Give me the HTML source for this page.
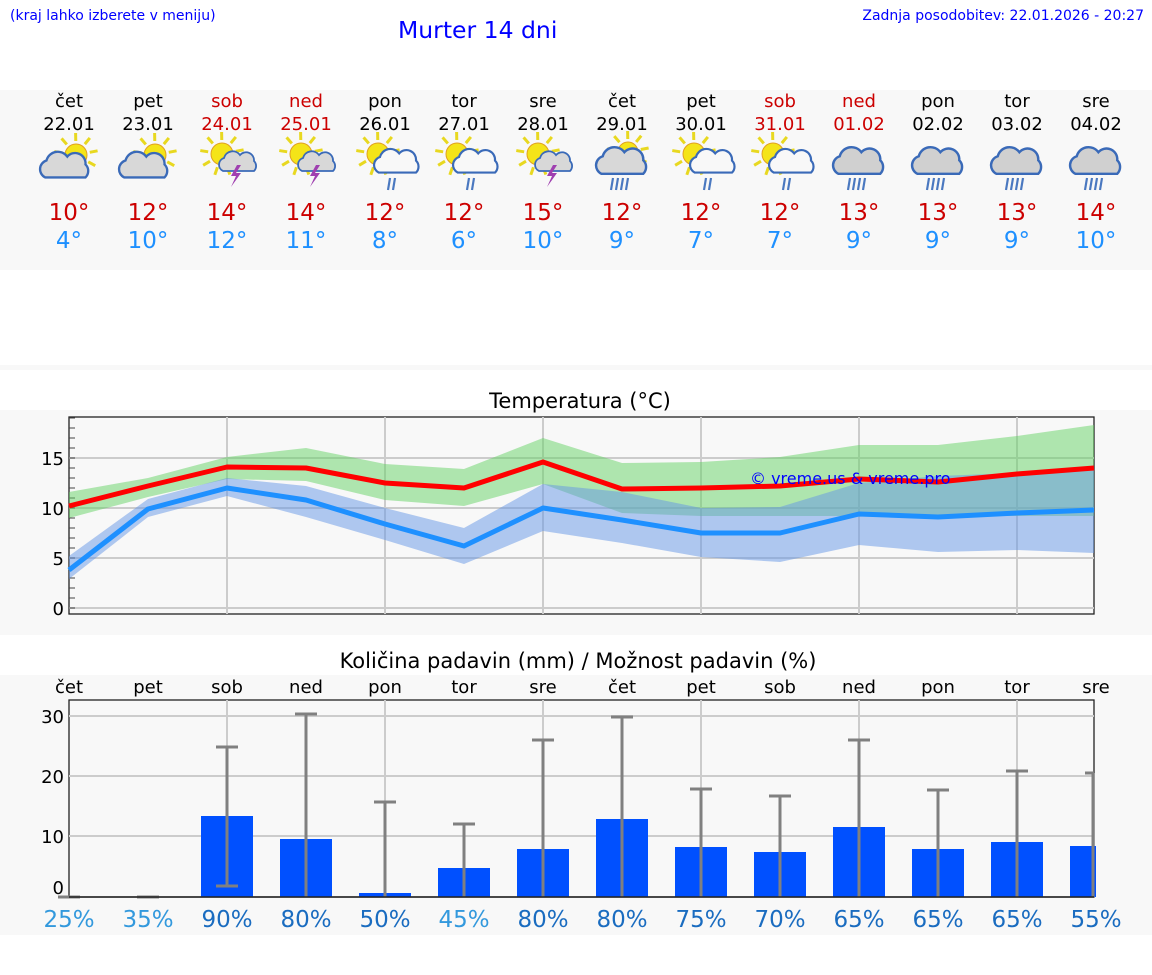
<!DOCTYPE html>
<html><head><meta charset="utf-8">
<style>
body{margin:0;width:1152px;height:975px;background:#fff;font-family:"DejaVu Sans","Liberation Sans",sans-serif;overflow:hidden;position:relative}
.abs{position:absolute}
</style></head><body>
<div class="abs" style="left:10px;top:8px;font-size:14px;color:#00f">(kraj lahko izberete v meniju)</div>
<div class="abs" style="left:398px;top:16px;font-size:23.5px;color:#00f">Murter 14 dni</div>
<div class="abs" style="right:8px;top:8px;font-size:14px;color:#00f">Zadnja posodobitev: 22.01.2026 - 20:27</div>
<svg class="abs" style="left:0;top:0" width="1152" height="975" id="s" font-family="DejaVu Sans, Liberation Sans, sans-serif"></svg>
<script>
const s=document.getElementById('s');let h='';
h+='<rect x="0" y="90" width="1152" height="180" fill="#f8f8f8"/>';
h+='<rect x="0" y="365" width="1152" height="5" fill="#f8f8f8"/>';
h+='<rect x="0" y="410" width="1152" height="225" fill="#f8f8f8"/>';
h+='<rect x="0" y="675" width="1152" height="260" fill="#f8f8f8"/>';
const X=i=>69+79*i;
const days=['čet','pet','sob','ned','pon','tor','sre','čet','pet','sob','ned','pon','tor','sre'];
const dates=['22.01','23.01','24.01','25.01','26.01','27.01','28.01','29.01','30.01','31.01','01.02','02.02','03.02','04.02'];
const red=[2,3,9,10];
const hi=[10,12,14,14,12,12,15,12,12,12,13,13,13,14],lo=[4,10,12,11,8,6,10,9,7,7,9,9,9,10];
const ic=[0,0,1,1,2,2,1,3,2,2,4,4,4,4];
function sun(x,y,r){let o='';for(let k=0;k<9;k++){let a=-Math.PI*0.95+k*Math.PI*2/9;o+=`<line x1="${x+Math.cos(a)*(r+3)}" y1="${y+Math.sin(a)*(r+3)}" x2="${x+Math.cos(a)*(r+11)}" y2="${y+Math.sin(a)*(r+11)}" stroke="#e8d820" stroke-width="3"/>`;}
return o+`<circle cx="${x}" cy="${y}" r="${r}" fill="#f4e418" stroke="#e0a020" stroke-width="1"/>`;}
function cloud(x,y,sc,f){return `<g transform="translate(${x},${y}) scale(${sc})"><path d="M-16,8 a7,7 0 0 1 1,-13 a9,9 0 0 1 16,-3 a8,8 0 0 1 14,6 a7,7 0 0 1 0,10 z" fill="${f}" stroke="#3a6ab8" stroke-width="1.8"/></g>`;}
function rain(x,y,n){let o='';for(let k=0;k<n;k++)o+=`<line x1="${x+k*5}" y1="${y}" x2="${x+k*5-2}" y2="${y+12}" stroke="#4a78c0" stroke-width="2.2"/>`;return o;}
function bolt(x,y){return `<path d="M${x+4},${y} l-6,11 h5 l-5,11 l10,-14 h-5 l5,-8z" fill="#a040b0"/>`;}
for(let i=0;i<14;i++){const x=X(i),c=red.includes(i)?'#cc0000':'#000';
h+=`<text x="${x}" y="107" font-size="18" text-anchor="middle" fill="${c}">${days[i]}</text>`;
h+=`<text x="${x}" y="130" font-size="18" text-anchor="middle" fill="${c}">${dates[i]}</text>`;
h+=`<text x="${x}" y="220" font-size="23" text-anchor="middle" fill="#cc0000">${hi[i]}°</text>`;
h+=`<text x="${x}" y="248" font-size="23" text-anchor="middle" fill="#1e90ff">${lo[i]}°</text>`;
const t=ic[i];
if(t==0){h+=sun(x+7,155,11)+cloud(x-3,167,1.3,'#d8d8d8');}
else if(t==1){h+=sun(x-5,154,11)+cloud(x+12,163,1.0,'#d8d8d8')+bolt(x+6,165);}
else if(t==2){h+=sun(x-7,154,11)+cloud(x+13,163,1.2,'#f8f8f8')+rain(x+5,178,2);}
else {if(t==3)h+=sun(x+6,152,10);h+=cloud(x+1,163,1.35,t==3?'#d8d8d8':'#d0d0d0')+rain(x-9,178,4);}
}
// temperature chart
h+='<text x="580" y="408" font-size="21" text-anchor="middle">Temperatura (°C)</text>';
h+='<rect x="69" y="417" width="1025" height="197" fill="#f8f8f8" stroke="#222" stroke-width="1.3"/>';
for(let i=2;i<14;i+=2)h+=`<line x1="${X(i)}" y1="417" x2="${X(i)}" y2="614" stroke="#ccc" stroke-width="2"/>`;
for(let v=0;v<=15;v+=5)h+=`<line x1="69" y1="${608-10*v}" x2="1094" y2="${608-10*v}" stroke="#ccc" stroke-width="2"/><text x="64" y="${615-10*v}" font-size="18" text-anchor="end">${v}</text>`;
for(let v=0;v<=19;v++)h+=`<line x1="69" y1="${608-10*v}" x2="75" y2="${608-10*v}" stroke="#444"/>`;
const xs=[69,148,227,306,385,464,543,622,701,780,859,938,1017,1094];
const gU=[492,478,457,448,464,469,438,463,462,457,445,445,436,425],gL=[518,497,479,481,500,506,484,513,516,516,516,516,516,516];
const bU=[556,499,478,486,508,528,484,492,508,507,483,476,473,468],bL=[579,517,496,517,540,564,531,543,557,562,545,552,550,553];
const rl=[506,486,467,468,483,488,462,489,488,486,479,482,474,468],bl=[570,509,488,500,524,546,508,520,533,533,514,517,513,510];
const band=(u,l,f)=>`<polygon points="${xs.map((x,i)=>x+','+u[i]).join(' ')} ${xs.map((x,i)=>x+','+l[i]).reverse().join(' ')}" fill="${f}"/>`;
h+=band(gU,gL,'rgba(100,210,100,0.5)')+band(bU,bL,'rgba(100,150,230,0.5)');
const ln=(a,c)=>`<polyline points="${xs.map((x,i)=>x+','+a[i]).join(' ')}" fill="none" stroke="${c}" stroke-width="5" stroke-linejoin="round"/>`;
h+=ln(rl,'#ff0000')+ln(bl,'#1e90ff');
h+='<text x="750" y="484" font-size="16" fill="#0000ff">© vreme.us &amp; vreme.pro</text>';
// precip chart
h+='<text x="578" y="668" font-size="21" text-anchor="middle">Količina padavin (mm) / Možnost padavin (%)</text>';
h+='<rect x="69" y="700" width="1025" height="197" fill="#f8f8f8" stroke="#222" stroke-width="1.3"/>';
for(let i=2;i<14;i+=2)h+=`<line x1="${X(i)}" y1="700" x2="${X(i)}" y2="897" stroke="#ccc" stroke-width="2"/>`;
for(let v=10;v<=30;v+=10)h+=`<line x1="69" y1="${896-6*v}" x2="1094" y2="${896-6*v}" stroke="#ccc" stroke-width="2"/>`;
[[0,894],[10,843],[20,783],[30,723]].forEach(a=>h+=`<text x="64" y="${a[1]}" font-size="18" text-anchor="end">${a[0]}</text>`);
const bt=[897,897,816,839,893,868,849,819,847,852,827,849,842,846],et=[897,897,747,714,802,824,740,717,789,796,740,790,771,773];
for(let i=0;i<14;i++){const x=X(i);
h+=`<text x="${x}" y="693" font-size="18" text-anchor="middle">${days[i]}</text>`;
if(bt[i]<897){const w=i==13?26:52;h+=`<rect x="${x-26}" y="${bt[i]}" width="${w}" height="${897-bt[i]}" fill="#0050ff"/>`;}
const ex=Math.min(x,1093);
h+=`<line x1="${ex}" y1="${i==2?886:897}" x2="${ex}" y2="${et[i]}" stroke="#808080" stroke-width="3"/>`;
h+=`<line x1="${x-11}" y1="${et[i]}" x2="${Math.min(x+11,1094)}" y2="${et[i]}" stroke="#808080" stroke-width="3"/>`;
if(i==2)h+=`<line x1="${x-11}" y1="886" x2="${x+11}" y2="886" stroke="#808080" stroke-width="3"/>`;
}
h+='<line x1="69" y1="897" x2="1094" y2="897" stroke="#222" stroke-width="1.5"/>';
const pc=[25,35,90,80,50,45,80,80,75,70,65,65,65,55];
for(let i=0;i<14;i++){const c=pc[i]<50?'#3399dd':'#1a6cc0';h+=`<text x="${X(i)}" y="927" font-size="23" text-anchor="middle" fill="${c}">${pc[i]}%</text>`;}
s.innerHTML=h;
</script>
</body></html>
